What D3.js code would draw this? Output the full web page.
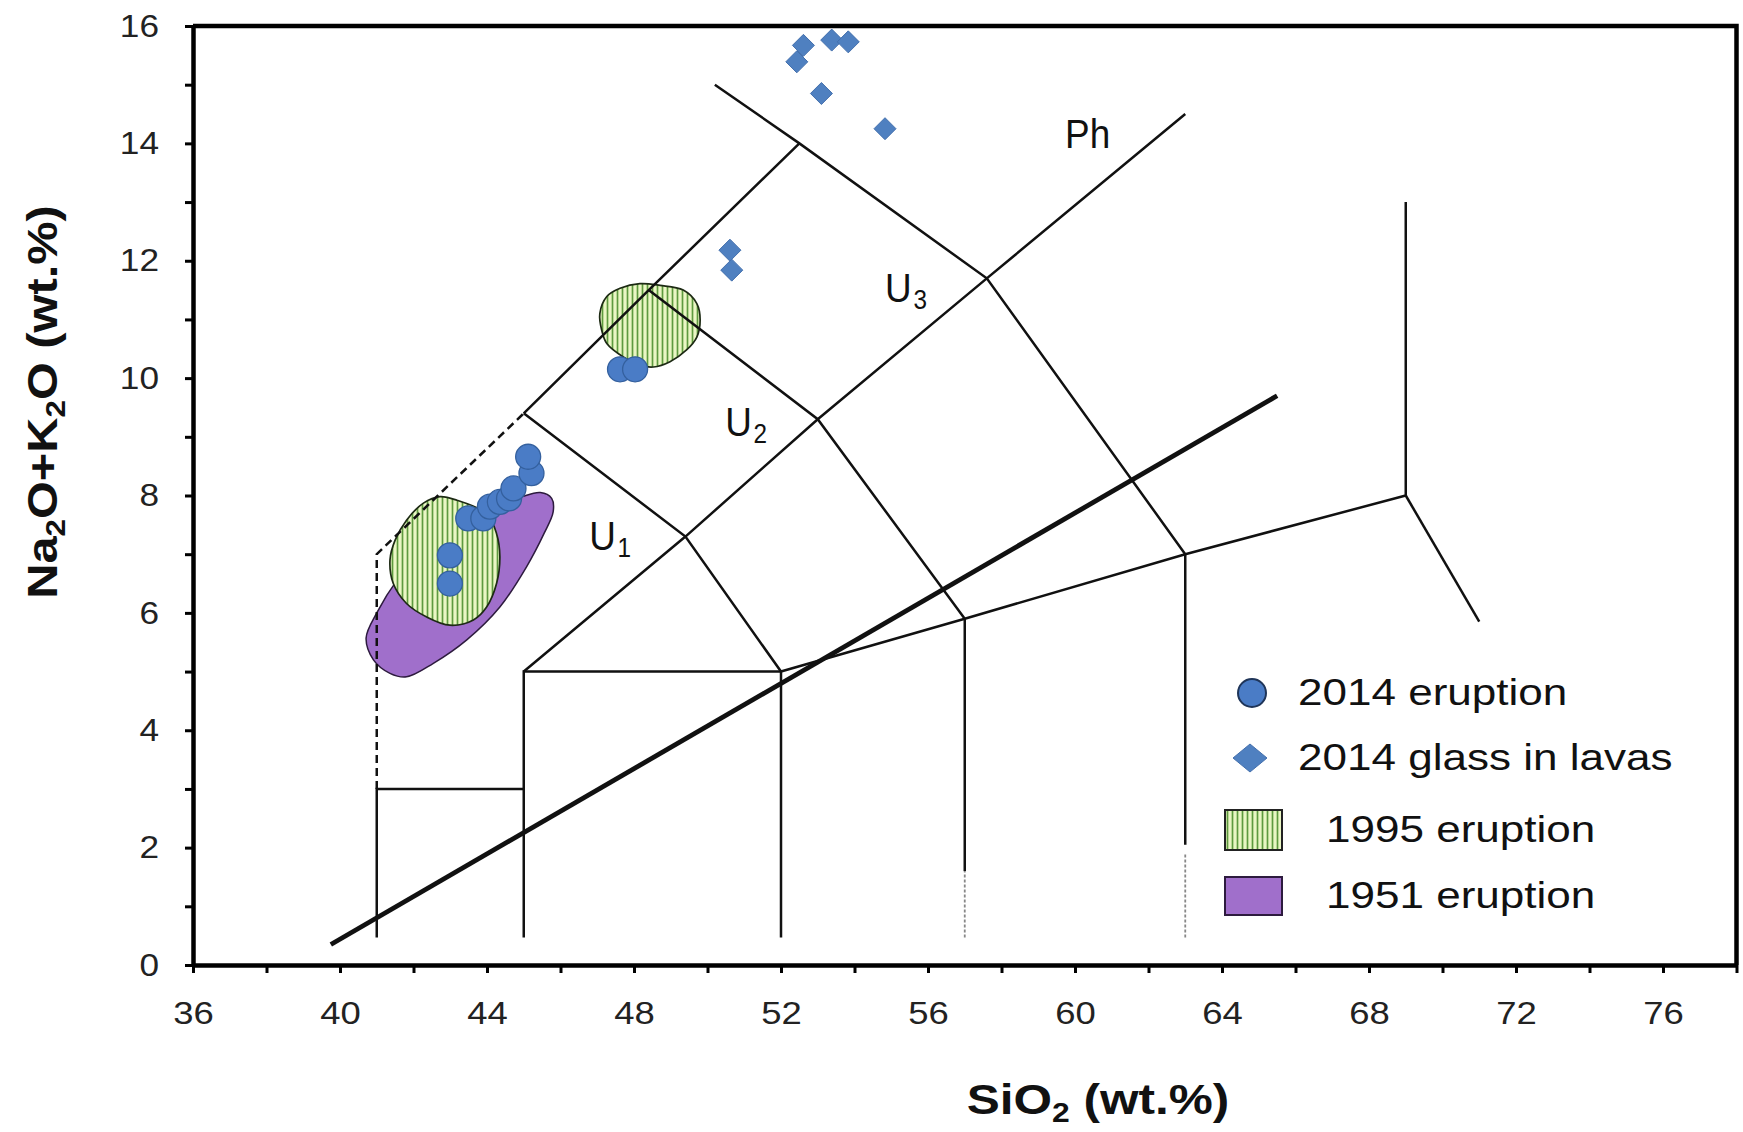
<!DOCTYPE html>
<html><head><meta charset="utf-8">
<script src="https://cdn.jsdelivr.net/npm/d3@7"></script>
<style>body{margin:0;background:#fff}svg{display:block;font-family:"Liberation Sans",Arial,sans-serif}</style>
</head><body><svg id="chart" width="1743" height="1132"></svg>
<script>
// ---------- data ----------
const eruption2014SiO2 = [42.99, 42.99, 43.49, 43.90, 44.08, 44.35, 44.60, 44.72, 45.21, 45.12, 47.62, 48.03];
const eruption2014Alk  = [6.50, 6.98, 7.61, 7.61, 7.81, 7.89, 7.95, 8.12, 8.38, 8.66, 10.15, 10.15];
const glassSiO2 = [52.43, 52.61, 53.38, 53.83, 53.10, 54.83, 50.61, 50.66];
const glassAlk  = [15.39, 15.67, 15.76, 15.73, 14.85, 14.25, 12.18, 11.84];
const field1951 = [[40.71,5.57],[41.0,6.0],[41.6,6.6],[42.5,7.25],[43.5,7.7],[44.3,7.85],[44.9,7.97],[45.45,8.05],[45.76,7.95],[45.80,7.72],[45.55,7.35],[45.08,6.79],[44.35,6.10],[43.45,5.54],[42.54,5.14],[41.81,4.91],[41.36,4.97],[40.91,5.20]];
const field1995Low = [[41.36,6.90],[41.50,7.24],[41.81,7.58],[42.27,7.87],[42.72,7.98],[43.18,7.92],[43.99,7.69],[44.26,7.35],[44.35,6.96],[44.26,6.50],[43.99,6.10],[43.63,5.88],[42.99,5.79],[42.36,5.93],[41.81,6.16],[41.45,6.50]];
const field1995High = [[47.07,11.10],[47.26,11.39],[47.62,11.53],[48.16,11.61],[48.71,11.58],[49.34,11.50],[49.71,11.27],[49.80,10.99],[49.71,10.70],[49.43,10.48],[48.98,10.28],[48.53,10.19],[48.16,10.22],[47.71,10.36],[47.26,10.59],[47.12,10.82]];
const tasSolid = [
  [[41,0.47],[41,3],[45,3]],
  [[45,0.47],[45,5],[52,5]],
  [[52,0.47],[52,5],[57,5.9],[63,7],[69,8],[69,13]],
  [[57,1.6],[57,5.9]],
  [[63,2.05],[63,7]],
  [[69,8],[71,5.85]],
  [[45,5],[49.4,7.3],[53,9.3],[57.6,11.7],[63,14.5]],
  [[45,9.4],[48.4,11.5],[52.5,14]],
  [[50.2,15],[52.5,14],[57.6,11.7],[63,7]],
  [[45,9.4],[49.4,7.3],[52,5]],
  [[48.4,11.5],[53,9.3],[57,5.9]]
];
const tasDashed = [[41,3],[41,7],[45,9.4]];
const tasDotted = [[[57,0.47],[57,1.6]],[[63,0.47],[63,1.9]]];
const alkalineDivider = [[39.75,0.35],[65.5,9.7]];
const xTickValues = d3.range(36, 79, 2);
const xTickLabels = [36,40,44,48,52,56,60,64,68,72,76];
const yTickValues = d3.range(0, 17, 1);
const yTickLabels = [0,2,4,6,8,10,12,14,16];
const fieldLabels = [
  {main:"U", sub:"1", si:46.78, alk:7.07},
  {main:"U", sub:"2", si:50.48, alk:9.01},
  {main:"U", sub:"3", si:54.83, alk:11.29},
  {main:"Ph", sub:"", si:59.73, alk:13.92}
];
const legendLabels = ["2014 eruption", "2014 glass in lavas", "1995 eruption", "1951 eruption"];

// ---------- layout ----------
const svg = d3.select("#chart");
const x = d3.scaleLinear().domain([36, 78]).range([193, 1736.5]);
const y = d3.scaleLinear().domain([0, 16]).range([965, 26]);

const defs = svg.append("defs");
const pat = defs.append("pattern").attr("id","hatch").attr("patternUnits","userSpaceOnUse")
  .attr("width",5).attr("height",10);
pat.append("rect").attr("width",5).attr("height",10).attr("fill","#eaf6c4");
pat.append("line").attr("x1",2.5).attr("x2",2.5).attr("y1",0).attr("y2",10)
  .attr("stroke","#5e9a3e").attr("stroke-width",1.7);

const blob = d3.line().x(d=>x(d[0])).y(d=>y(d[1])).curve(d3.curveCatmullRomClosed.alpha(0.5));
const line = d3.line().x(d=>x(d[0])).y(d=>y(d[1]));

svg.append("path").attr("d", blob(field1951)).attr("fill","#a06fcb").attr("stroke","#2d1b3e").attr("stroke-width",1.5);
[field1995Low, field1995High].forEach(f=>{
  svg.append("path").attr("d", blob(f)).attr("fill","url(#hatch)").attr("stroke","#1d2a14").attr("stroke-width",1.7);
});

const gl = svg.append("g").attr("fill","none").attr("stroke","#111");
tasSolid.forEach(p=>gl.append("path").attr("d", line(p)).attr("stroke-width",2.5));
gl.append("path").attr("d", line(tasDashed)).attr("stroke-width",2.5).attr("stroke-dasharray","8,5");
tasDotted.forEach(p=>gl.append("path").attr("d", line(p)).attr("stroke","#888").attr("stroke-width",1.8).attr("stroke-dasharray","3,2"));
gl.append("path").attr("d", line(alkalineDivider)).attr("stroke-width",4.8);

// points
svg.append("g").selectAll("circle").data(eruption2014SiO2).join("circle")
  .attr("cx",(d)=>x(d)).attr("cy",(d,i)=>y(eruption2014Alk[i])).attr("r",12.5)
  .attr("fill","#4a7cc6").attr("stroke","#34609e").attr("stroke-width",1.3);
const diamond = (cx,cy,hw,hh)=>`M${cx},${cy-hh}L${cx+hw},${cy}L${cx},${cy+hh}L${cx-hw},${cy}Z`;
svg.append("g").selectAll("path").data(glassSiO2).join("path")
  .attr("d",(d,i)=>diamond(x(d), y(glassAlk[i]), 11, 11))
  .attr("fill","#4f80c0").attr("stroke","#4470ad").attr("stroke-width",1);

// axes
const xAxis = d3.axisBottom(x).tickValues(xTickValues).tickSize(8).tickSizeOuter(0).tickPadding(28)
  .tickFormat(d=>xTickLabels.includes(d)? d : "");
const gx = svg.append("g").attr("transform",`translate(0,${y(0)})`).call(xAxis);
const yAxis = d3.axisLeft(y).tickValues(yTickValues).tickSize(8).tickSizeOuter(0).tickPadding(26)
  .tickFormat(d=>yTickLabels.includes(d)? d : "");
const gy = svg.append("g").attr("transform",`translate(${x(36)},0)`).call(yAxis);
[gx,gy].forEach(g=>{
  g.select(".domain").attr("stroke","#000").attr("stroke-width",4.5);
  g.selectAll(".tick line").attr("stroke","#000").attr("stroke-width",3);
  g.selectAll(".tick text").attr("font-size",32).attr("fill","#222").attr("font-family","Liberation Sans, Arial, sans-serif");
});
gx.selectAll(".tick text").each(function(){
  const yy=+this.getAttribute("y"); this.setAttribute("y",0);
  this.setAttribute("transform",`translate(0,${yy}) scale(1.14,1)`);
});
gy.selectAll(".tick text").each(function(){
  const xx=+this.getAttribute("x"); this.setAttribute("x",0);
  this.setAttribute("transform",`translate(${xx},0) scale(1.1,1)`);
});
// frame
svg.append("path").attr("d", line([[36,16],[78,16],[78,0]])).attr("fill","none").attr("stroke","#000").attr("stroke-width",4.5).attr("stroke-linejoin","miter");

// field labels
fieldLabels.forEach(l=>{
  const t = svg.append("text").attr("transform",`translate(${x(l.si)},${y(l.alk)}) scale(0.9,1)`)
    .attr("font-size",41).attr("fill","#111");
  t.append("tspan").text(l.main);
  if(l.sub) t.append("tspan").attr("font-size",27).attr("dx",2).attr("dy",7).text(l.sub);
});

// axis titles
const xt = svg.append("text").attr("transform","translate(1098,1114) scale(1.18,1)")
  .attr("text-anchor","middle").attr("font-size",42).attr("font-weight","bold").attr("fill","#111");
xt.append("tspan").text("SiO");
xt.append("tspan").attr("font-size",27).attr("dy",8).text("2");
xt.append("tspan").attr("dy",-8).text(" (wt.%)");

const yt = svg.append("text").attr("transform","translate(57,402) rotate(-90) scale(1.16,1)")
  .attr("text-anchor","middle").attr("font-size",42).attr("font-weight","bold").attr("fill","#111");
yt.append("tspan").text("Na");
yt.append("tspan").attr("font-size",27).attr("dy",8).text("2");
yt.append("tspan").attr("dy",-8).text("O+K");
yt.append("tspan").attr("font-size",27).attr("dy",8).text("2");
yt.append("tspan").attr("dy",-8).text("O (wt.%)");

// legend
const lg = svg.append("g");
const rowsY = [693, 758, 830, 896];
lg.append("circle").attr("cx",1252).attr("cy",rowsY[0]).attr("r",14).attr("fill","#4a7cc6").attr("stroke","#1f3559").attr("stroke-width",2);
lg.append("path").attr("d",diamond(1250,rowsY[1],17,14)).attr("fill","#4f80c0").attr("stroke","#4470ad");
lg.append("rect").attr("x",1225).attr("y",rowsY[2]-20).attr("width",57).attr("height",40).attr("fill","url(#hatch)").attr("stroke","#222").attr("stroke-width",2);
lg.append("rect").attr("x",1225).attr("y",rowsY[3]-19).attr("width",57).attr("height",38).attr("fill","#a06fcb").attr("stroke","#2d1b3e").attr("stroke-width",2);
const textX = [1298, 1298, 1326, 1326];
legendLabels.forEach((s,i)=>{
  lg.append("text").attr("transform",`translate(${textX[i]},${rowsY[i]+12}) scale(1.19,1)`)
    .attr("font-size",37).attr("fill","#111").text(s);
});
</script></body></html>
